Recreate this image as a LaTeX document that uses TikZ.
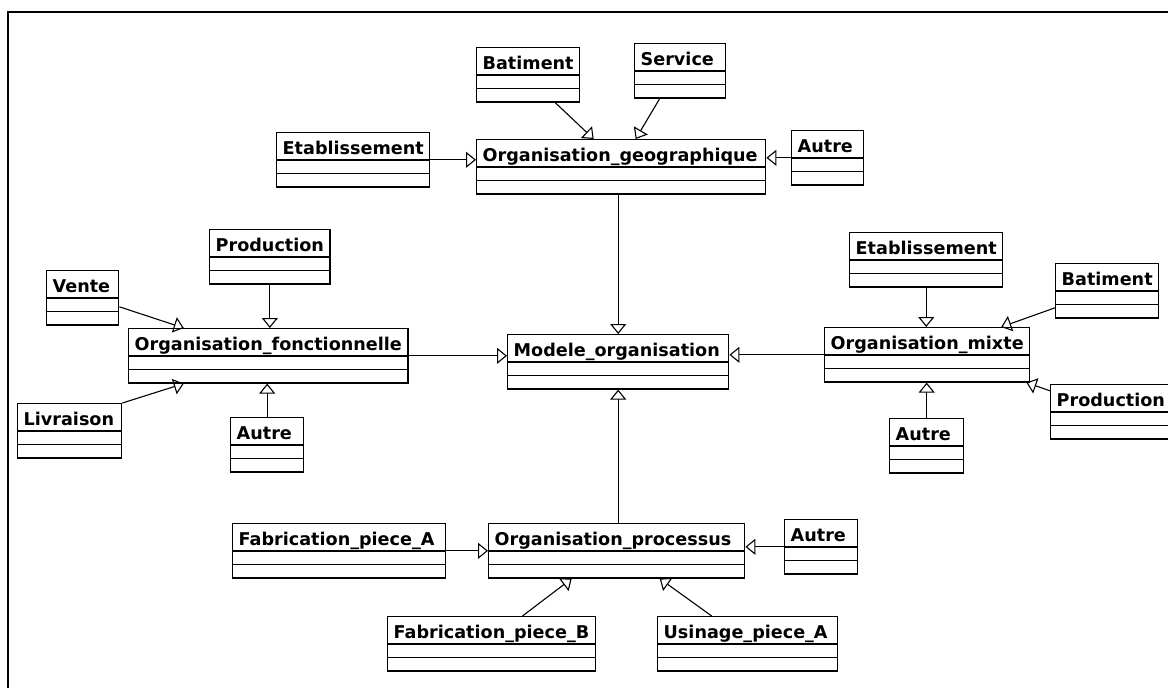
\documentclass[tikz,border=0pt]{standalone}
\usepackage{fontspec}
\setmainfont{DejaVu Sans}
\usepackage{tikz}
\usetikzlibrary{arrows.meta,shapes.multipart,calc}

\begin{document}
\begin{tikzpicture}[x=1pt, y=-1pt,
    cls/.style={rectangle split, rectangle split parts=3, draw, line width=1.4pt, anchor=north west,
        inner xsep=6pt, inner ysep=0pt, rectangle split empty part height=12pt, rectangle split empty part depth=0pt,
        rectangle split part align=left,
        font=\fontsize{17.6}{25}\selectfont\bfseries, execute at begin node=\rule[-5pt]{0pt}{26pt}, fill=white},
    gen/.style={-{Triangle[open, length=10pt, width=16pt, line width=1.1pt]}, line width=1.1pt}
]
\useasboundingbox (0,0) rectangle (1168,688);
\draw[line width=2pt] (8,688) -- (8,12) -- (1168,12);

\node[cls, minimum width=289pt] (geo) at (476,139) {Organisation\_geographique};
\node[cls, minimum width=102pt] (geoBat) at (476,47) {Batiment};
\node[cls, minimum width=91pt] (geoServ) at (634,43) {Service};
\node[cls, minimum width=153pt] (geoEtab) at (276,132) {Etablissement};
\node[cls, minimum width=72pt] (geoAutre) at (791,130) {Autre};

\node[cls, minimum width=279pt] (fonc) at (128,328) {Organisation\_fonctionnelle};
\node[cls, minimum width=120pt] (foncProd) at (209,229) {Production};
\node[cls, minimum width=72pt] (foncVente) at (46,270) {Vente};
\node[cls, minimum width=104pt] (foncLiv) at (17,403) {Livraison};
\node[cls, minimum width=73pt] (foncAutre) at (230,417) {Autre};

\node[cls, minimum width=221pt] (modele) at (507,334) {Modele\_organisation};

\node[cls, minimum width=204pt] (mixte) at (824,327) {Organisation\_mixte};
\node[cls, minimum width=151pt] (mixEtab) at (849,232) {Etablissement};
\node[cls, minimum width=99pt] (mixBat) at (1055,263) {Batiment};
\node[cls, minimum width=135pt] (mixProd) at (1050,384) {Production};
\node[cls, minimum width=74pt] (mixAutre) at (889,418) {Autre};

\node[cls, minimum width=256pt] (proc) at (488,523) {Organisation\_processus};
\node[cls, minimum width=213pt] (procFabA) at (232,523) {Fabrication\_piece\_A};
\node[cls, minimum width=73pt] (procAutre) at (784,519) {Autre};
\node[cls, minimum width=205pt] (procFabB) at (387,616) {Fabrication\_piece\_B};
\node[cls, minimum width=180pt] (procUsin) at (657,616) {Usinage\_piece\_A};

\draw[gen] (geoEtab.east) -- (geoEtab.east -| geo.west);
\draw[gen] (geoAutre.west) -- (geoAutre.west -| geo.east);
\draw[gen] ([xshift=27pt]geoBat.south) -- ([xshift=-27.5pt]geo.north);
\draw[gen] ([xshift=-20.5pt]geoServ.south) -- ([xshift=14.5pt]geo.north);
\draw[gen] (geo.south -| modele.north) -- (modele.north);

\draw[gen] (foncProd.south) -- (foncProd.south |- fonc.north);
\draw[gen] (foncAutre.north) -- (foncAutre.north |- fonc.south);
\draw[gen] ([yshift=-9pt]foncVente.east) -- ([xshift=-84.5pt]fonc.north);
\draw[gen] (foncLiv.north east) -- ([xshift=-84.5pt]fonc.south);
\draw[gen] (fonc.east) -- (fonc.east -| modele.west);

\draw[gen] (mixEtab.south) -- (mixEtab.south |- mixte.north);
\draw[gen] (mixAutre.north) -- (mixAutre.north |- mixte.south);
\draw[gen] ([yshift=-17pt]mixBat.west) -- ([xshift=74pt]mixte.north);
\draw[gen] ([yshift=21pt]mixProd.west) -- ([xshift=-4pt]mixte.south east);
\draw[gen] (mixte.west) -- (mixte.west -| modele.east);

\draw[gen] (procFabA.east) -- (procFabA.east -| proc.west);
\draw[gen] (procAutre.west) -- (procAutre.west -| proc.east);
\draw[gen] ([xshift=31pt]procFabB.north) -- ([xshift=-45pt]proc.south);
\draw[gen] ([xshift=-36pt]procUsin.north) -- ([xshift=43pt]proc.south);
\draw[gen] (proc.north -| modele.south) -- (modele.south);
\end{tikzpicture}
\end{document}
